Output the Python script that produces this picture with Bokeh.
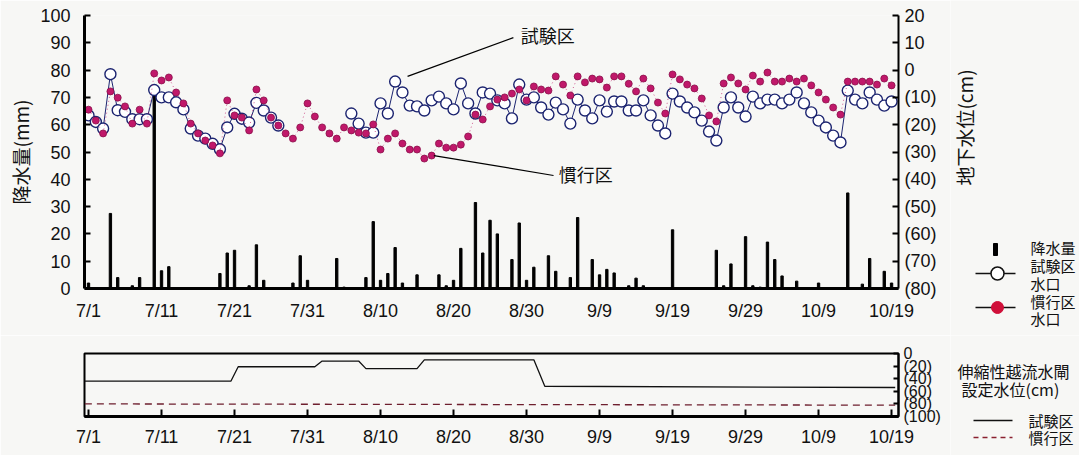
import math
from bokeh.plotting import figure
from bokeh.models import (Range1d, LinearAxis, FixedTicker, CustomJSTickFormatter,
                          Label, Arrow)
from bokeh.layouts import column, row
from bokeh.embed import file_html
from bokeh.resources import INLINE

nan = float("nan")

# ---------------- data ----------------
tick_days = [0, 10, 20, 30, 40, 50, 60, 70, 80, 90, 100, 110]
date_labels = ["7/1", "7/11", "7/21", "7/31", "8/10", "8/20", "8/30",
               "9/9", "9/19", "9/29", "10/9", "10/19"]

days = list(range(111))  # 7/1 = day 0 ... 10/19 = day 110

# daily rainfall (mm)
rain_days = [0, 3, 4, 6, 7, 9, 10, 11, 18, 19, 20, 22, 23, 24, 28, 29, 30, 34, 35,
             38, 39, 40, 41, 42, 43, 45, 48, 49, 50, 51, 53, 54, 55, 56, 58, 59, 60,
             61, 63, 64, 66, 67, 69, 70, 71, 72, 74, 75, 76, 80, 86, 87, 88, 90, 91,
             92, 93, 94, 95, 97, 100, 104, 106, 107, 109, 110]
rain_mm = [2, 27.5, 4, 1, 4, 73, 6.5, 8, 5.5, 13, 14, 1, 16, 3, 2, 12, 3, 11, 0.5,
           4, 24.5, 3, 5.5, 15, 2, 5, 5, 1, 3, 14.7, 31.5, 13, 25, 20, 10.6, 24, 3,
           7.8, 12, 6.3, 4, 26, 10.6, 5, 7, 5.7, 1, 3.8, 1, 21.5, 14, 1, 9, 19, 1,
           0.5, 17, 10.6, 4.6, 2.7, 2, 35, 1.6, 11, 6.3, 2]

# groundwater level at inlet (cm, negative = below surface)
shiken = [-16.6, -19, -21.4, -1.5, -14.7, -15.3, -18, -18, -18, -7.3,
          -10, -10, -11.8, -14.4, -21.4, -24, -25.1, -27, -29, -21,
          -16, -17.8, -19.2, -12, -14.8, -17.4, -20.3,
          nan, nan, nan, nan, nan, nan, nan, nan, nan,
          -15.9, -19.6, -22.9, -22.9, -12.2, -15.9, -4.2, -8.2, -13, -13.3,
          -14.8, -11.1, -9.7, -12.2, -14.4, -4.9, -12.2, -15.9, -8.2, -8.6,
          -11.1, -12.2, -17.7, -5.3, -10.8, -10, -13.7, -16.3, -11.9, -14.4,
          -19.6, -10.8, -14.8, -17.7, -11.1, -15.2, -11.5, -11.5, -14.8, -14.8,
          -11.1, -16.6, -20.3, -23.2, -8.6, -11.5, -13.7, -15.5, -18.5, -22.5,
          -25.8, -13.7, -10, -13.7, -17, -9.7, -12.2, -10.8, -10.8, -12.2,
          -10.8, -8.2, -12.2, -15.5, -18.5, -21, -24, -26.5, -7.5, -10.8,
          -12.2, -8.2, -10.8, -13, -11.5]
kanko = [-14.5, -18.5, -23.2, -7.8, -10.1, -13.3, -19.6, -14.5, -19.6, -1.2,
         -3.8, -2.7, -8.2, -12.2, -19.6, -23.2, -25.8, -27.6, -30.5, -11.1,
         -16.6, -17.4, -22.1, -7.1, -11.1, -17.4, -20.3, -23.2, -25.1, -21,
         -12.2, -17, -21, -23.2, -25.1, -21, -22.1, -22.9, -23.2, -19.9,
         -29.1, -25.1, -23.2, -26.9, -29.1, -29.1, -32.4, -31.3, -26.9, -28.4,
         -28.4, -27.3, -24.3, -16.3, -18.1, -13.3, -10.8, -10, -8.6, -7.1,
         -11.1, -6, -7.1, -7.5, -2.3, -5.3, -9.3, -2.3, -4.5, -3.1,
         -3.4, -6.4, -2.3, -2.3, -5, -7.8, -3.1, -6.7, -11.9, -15.9,
         -1.6, -3.4, -5.3, -6.7, -10.4, -16.6, -18.8, -4.9, -2.7, -4.9,
         -7.1, -2, -4.2, -0.9, -4.2, -4.2, -3.1, -4.2, -3.1, -5.6,
         -8.2, -10.8, -13.7, -16.3, -4.2, -4.2, -4.2, -4.2, -5.3, -3.1, -5.6]

# weir set water level (cm)
set_shiken_days = [-0.5, 19.5, 20.5, 31, 32, 37, 38, 45, 46, 61, 62.5, 110.5]
set_shiken_cm = [-44, -44, -21, -21, -12, -12, -24, -24, -10, -10, -52, -54]
set_kanko_days = [-0.5, 110.5]
set_kanko_cm = [-80, -82]

# callouts (day, value)
callout_shiken = dict(x0=43.7, y0=77.7, x1=58.2, y1=91.9, tx=59.2, ty=92.7)
callout_kanko = dict(x0=47.3, y0=48.7, x1=63.7, y1=41.4, tx=64.4, ty=42.1)

# ---------------- styles ----------------
JP = "Noto Sans CJK JP"
NUM = "Liberation Sans"
NAVY = "#1c2470"
MAG = "#c0186a"
MAG_D = "#8a0f4a"
RED = "#d0103a"
INK = "#111111"
BG = "#f7f7f5"
paren_fmt = CustomJSTickFormatter(code="return tick < 0 ? '(' + (-tick) + ')' : String(tick);")


def base_fig(**kw):
    f = figure(output_backend="svg", toolbar_location=None, **kw)
    f.background_fill_color = BG
    f.border_fill_color = BG
    f.grid.visible = False
    try:
        f.frame_align = False
    except Exception:
        pass
    return f


def side_fig(w, h):
    f = base_fig(width=w, height=h, x_range=Range1d(0, w), y_range=Range1d(0, h),
                 x_axis_location=None, y_axis_location=None,
                 min_border_left=0, min_border_right=0, min_border_top=0, min_border_bottom=0)
    f.outline_line_color = None
    return f


def style_axis(ax, size, standoff, tick_in, lw):
    ax.major_tick_in = tick_in
    ax.major_tick_out = 0
    ax.minor_tick_in = 0
    ax.minor_tick_out = 0
    ax.axis_line_width = lw
    ax.major_tick_line_width = 2
    ax.major_label_standoff = standoff
    ax.major_label_text_font = NUM
    ax.major_label_text_font_size = size
    ax.major_label_text_color = INK


def text(f, x, y, s, size, angle=0.0, align="left"):
    f.add_layout(Label(x=x, y=y, text=s, angle=angle, text_align=align, text_baseline="middle",
                       text_font=JP, text_font_size=size, text_color=INK))


# ---------------- top chart ----------------
p = base_fig(width=950, height=335, x_range=Range1d(-0.55, 110.95), y_range=Range1d(0, 100),
             min_border_left=84, min_border_right=52, min_border_top=15, min_border_bottom=47)
p.extra_y_ranges = {"gw": Range1d(-80, 20)}
p.outline_line_color = None

xa = p.xaxis[0]
xa.ticker = FixedTicker(ticks=tick_days)
xa.major_label_overrides = {d: s for d, s in zip(tick_days, date_labels)}
style_axis(xa, "18px", 12, 0, 3)

ya = p.yaxis[0]
ya.ticker = FixedTicker(ticks=list(range(0, 101, 10)))
style_axis(ya, "18px", 14, 6, 3)
ya.axis_label = "降水量(mm)"
ya.axis_label_standoff = 3
ya.axis_label_text_font = JP
ya.axis_label_text_font_size = "19px"
ya.axis_label_text_font_style = "normal"
ya.axis_label_text_color = INK

ra = LinearAxis(y_range_name="gw", ticker=FixedTicker(ticks=list(range(-80, 21, 10))),
                formatter=paren_fmt)
style_axis(ra, "18px", 6, 6, 2)
p.add_layout(ra, "right")

# rain bars
p.vbar(x=rain_days, top=rain_mm, width=0.32, color="black")

# groundwater series
p.line(days, shiken, y_range_name="gw", line_color=NAVY, line_width=1)
p.scatter(days, shiken, y_range_name="gw", marker="circle", size=11,
          fill_color="white", line_color=NAVY, line_width=1.4)
p.line(days, kanko, y_range_name="gw", line_color=MAG, line_width=1,
       line_dash="1 3", line_alpha=0.7)
p.scatter(days, kanko, y_range_name="gw", marker="circle", size=7,
          fill_color=MAG, line_color=MAG_D, line_width=0.8)

# callouts
for c, t in ((callout_shiken, "試験区"), (callout_kanko, "慣行区")):
    p.add_layout(Arrow(end=None, x_start=c["x0"], y_start=c["y0"], x_end=c["x1"], y_end=c["y1"],
                       line_color="black", line_width=1.2))
    text(p, c["tx"], c["ty"], t, "18px")

# right side of top chart: axis title + legend (pixel coordinates, y up)
s1 = side_fig(129, 335)
text(s1, 14, 208, "地下水位(cm)", "19px", angle=math.pi / 2, align="center")
s1.rect(x=[45], y=[86], width=4, height=12, color="black")
s1.segment(x0=[25, 25], y0=[62, 28], x1=[65, 65], y1=[62, 28], line_color=INK, line_width=1.3)
s1.scatter(x=[47], y=[62], marker="circle", size=13, fill_color="white",
           line_color=INK, line_width=1.5)
s1.scatter(x=[47], y=[28], marker="circle", size=12, fill_color=RED, line_color=RED)
for yy, s in ((88, "降水量"), (70, "試験区"), (52, "水口"), (34, "慣行区"), (17, "水口")):
    text(s1, 80, yy, s, "15px")

# ---------------- bottom chart ----------------
q = base_fig(width=950, height=120, x_range=p.x_range, y_range=Range1d(-100, 0),
             y_axis_location=None,
             min_border_left=84, min_border_right=52, min_border_top=18, min_border_bottom=39)
q.outline_line_color = "black"
q.outline_line_width = 2

qx = q.xaxis[0]
qx.ticker = FixedTicker(ticks=tick_days)
qx.major_label_overrides = {d: s for d, s in zip(tick_days, date_labels)}
style_axis(qx, "18px", 10, 7, 3)

qr = LinearAxis(ticker=FixedTicker(ticks=[0, -20, -40, -60, -80, -100]), formatter=paren_fmt)
style_axis(qr, "16px", 5, 5, 2)
q.add_layout(qr, "right")

q.line(set_shiken_days, set_shiken_cm, line_color=INK, line_width=1.3)
q.line(set_kanko_days, set_kanko_cm, line_color="#6e1f2e", line_width=1.3, line_dash="7 5")

# right side of bottom chart
s2 = side_fig(129, 120)
text(s2, 7, 85, "伸縮性越流水閘", "16px")
text(s2, 11, 67, "設定水位(cm)", "16px")
s2.segment(x0=[23], y0=[35], x1=[62], y1=[35], line_color=INK, line_width=1.3)
s2.segment(x0=[23], y0=[18], x1=[62], y1=[18], line_color="#8a2030", line_width=1.5,
           line_dash="5 4")
text(s2, 78, 35, "試験区", "15px")
text(s2, 78, 18, "慣行区", "15px")

layout = column(row(p, s1, spacing=0), row(q, s2, spacing=0), spacing=0)
open("out.html", "w").write(file_html(layout, INLINE))
